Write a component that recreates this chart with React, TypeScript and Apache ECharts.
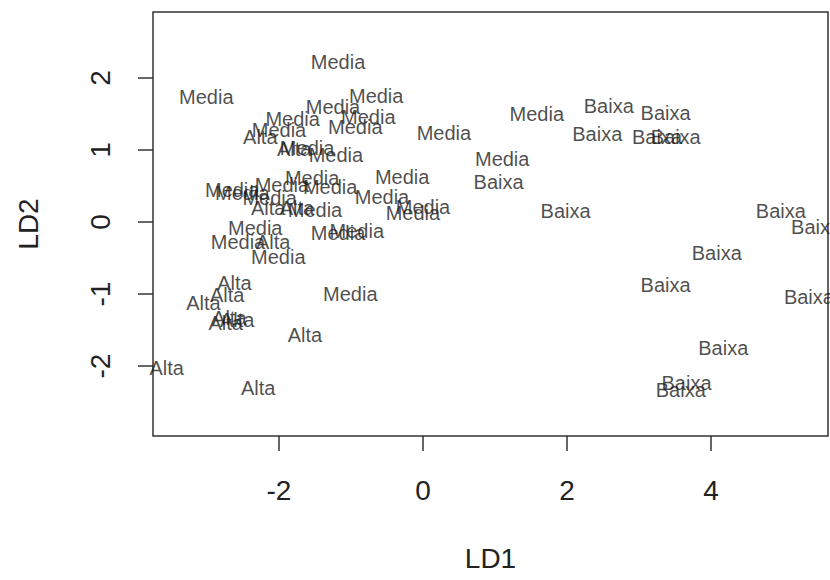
import React, { useEffect, useRef } from "react";
import * as echarts from "echarts";

const classes: string[] = [
  "Media", "Media", "Media", "Media", "Media", "Media", "Media", "Media", "Media", "Media",
  "Media", "Media", "Media", "Media", "Media", "Media", "Media", "Media", "Media", "Media",
  "Media", "Media", "Media", "Media", "Media", "Media", "Media", "Media", "Media", "Media",
  "Alta", "Alta", "Alta", "Alta", "Alta", "Alta", "Alta", "Alta", "Alta", "Alta",
  "Alta", "Alta", "Alta", "Alta",
  "Baixa", "Baixa", "Baixa", "Baixa", "Baixa", "Baixa", "Baixa", "Baixa", "Baixa", "Baixa",
  "Baixa", "Baixa", "Baixa", "Baixa", "Baixa",
];

const ld1: number[] = [
  -1.18, -3.01, -0.65, -1.25, -0.76, -1.81, -0.94, -2.0, 0.29, 1.58,
  1.1, -1.61, -1.21, -1.54, -0.29, -1.96, -1.29, -2.65, -2.51, -2.13,
  -0.57, 0.0, -0.14, -1.5, -2.33, -2.57, -2.01, -1.18, -0.92, -1.01,
  -2.26, -1.79, -2.15, -1.75, -2.08, -2.62, -2.72, -3.05, -2.69, -2.58,
  -2.74, -1.64, -3.56, -2.29,
  2.58, 3.37, 2.42, 3.25, 3.51, 1.05, 1.98, 4.97, 5.46, 4.08,
  3.37, 5.36, 4.17, 3.66, 3.58,
];

const ld2: number[] = [
  2.22, 1.74, 1.75, 1.6, 1.46, 1.43, 1.32, 1.28, 1.24, 1.5,
  0.88, 1.03, 0.93, 0.61, 0.63, 0.51, 0.49, 0.44, 0.4, 0.33,
  0.35, 0.21, 0.12, 0.17, -0.09, -0.28, -0.49, -0.15, -0.12, -1.0,
  1.18, 1.01, 0.19, 0.19, -0.28, -0.85, -1.01, -1.13, -1.33, -1.36,
  -1.4, -1.57, -2.03, -2.31,
  1.61, 1.51, 1.22, 1.18, 1.18, 0.56, 0.15, 0.15, -0.07, -0.43,
  -0.88, -1.04, -1.75, -2.24, -2.33,
];

const xTicks: number[] = [-2, 0, 2, 4];
const yTicks: number[] = [-2, -1, 0, 1, 2];

export default function App() {
  const ref = useRef<HTMLDivElement>(null);
  useEffect(() => {
    if (!ref.current) return;
    const chart = echarts.init(ref.current, undefined, { renderer: "svg" });
    const data = classes.map((c, i) => ({ name: c, value: [ld1[i], ld2[i]] }));
    const font = "Liberation Sans, Arial, Helvetica, sans-serif";
    chart.setOption({
      animation: false,
      backgroundColor: "#ffffff",
      grid: {
        left: 153,
        top: 12,
        width: 675,
        height: 424,
        show: true,
        borderColor: "#333333",
        borderWidth: 1.5,
        backgroundColor: "transparent",
      },
      xAxis: {
        type: "value",
        min: -3.75,
        max: 5.625,
        name: "LD1",
        nameLocation: "middle",
        nameGap: 108,
        nameTextStyle: { fontSize: 28, color: "#222", fontFamily: font },
        axisLine: { show: false, onZero: false },
        splitLine: { show: false },
        axisTick: {
          show: true,
          length: 15,
          customValues: xTicks,
          lineStyle: { color: "#333", width: 1.5 },
        },
        axisLabel: {
          customValues: xTicks,
          margin: 40,
          fontSize: 28,
          color: "#222",
          fontFamily: font,
          formatter: (v: number) => String(v),
        },
      },
      yAxis: {
        type: "value",
        min: -2.972,
        max: 2.917,
        name: "LD2",
        nameLocation: "middle",
        nameGap: 111,
        nameTextStyle: { fontSize: 28, color: "#222", fontFamily: font },
        axisLine: { show: false, onZero: false },
        splitLine: { show: false },
        axisTick: {
          show: true,
          length: 15,
          customValues: yTicks,
          lineStyle: { color: "#333", width: 1.5 },
        },
        axisLabel: {
          customValues: yTicks,
          rotate: 90,
          margin: 39,
          fontSize: 28,
          color: "#222",
          fontFamily: font,
          formatter: (v: number) => String(v),
        },
      },
      series: [
        {
          type: "scatter",
          symbolSize: 0,
          data,
          clip: false,
          label: {
            show: true,
            position: "inside",
            formatter: (p: any) => p.name,
            fontSize: 20,
            color: "#1e1e1e",
            fontFamily: font,
          },
          emphasis: { disabled: true },
        },
      ],
    });
    return () => chart.dispose();
  }, []);
  return (
    <div
      ref={ref}
      style={{ position: "fixed", left: 0, top: 0, width: 830, height: 580 }}
    />
  );
}
